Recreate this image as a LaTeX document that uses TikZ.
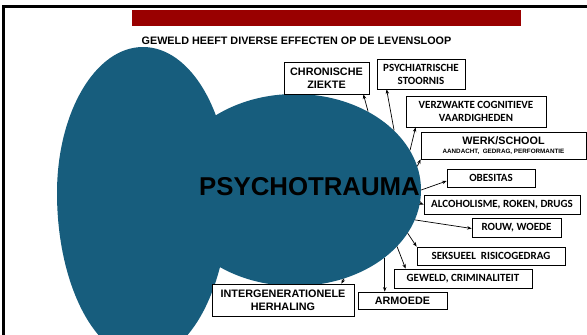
\documentclass[tikz,border=0pt]{standalone}
\usepackage{fontspec}
\setmainfont{Liberation Sans}
\newfontfamily\calfont{Carlito}
\usetikzlibrary{shapes.geometric,arrows.meta}
\definecolor{blob}{RGB}{23,93,125}
\definecolor{barred}{RGB}{153,0,0}
\begin{document}
\begin{tikzpicture}[x=1pt,y=-1pt,
  box/.style={draw=black, line width=0.8pt, fill=white, inner sep=0pt, align=center,
    font=\bfseries\fontsize{10.8}{13}\selectfont},
  cbox/.style={box, font=\calfont\bfseries\fontsize{11}{13}\selectfont},
  arr/.style={-{Stealth[length=4.5pt,width=3.5pt]}, line width=0.7pt}]
\useasboundingbox (0,0) rectangle (587,335);
\clip (0,0) rectangle (587,335);
% frame
\draw[line width=3pt] (3.5,335) -- (3.5,6.5) -- (587,6.5);
\fill[barred] (132,9.5) rectangle (521,25.5);
\node[font=\bfseries\fontsize{10.8}{13}\selectfont] (title) at (296.5,41) {GEWELD HEEFT DIVERSE EFFECTEN OP DE LEVENSLOOP};
% blob: egg-shaped left part and the ellipse behind the title word
\fill[blob] (57,193) arc[start angle=180, end angle=360, x radius=86, y radius=146]
  arc[start angle=0, end angle=180, x radius=86, y radius=166] -- cycle;
\node[ellipse, fill=blob, inner sep=0pt, minimum width=252pt, minimum height=192pt] (e2) at (295,190) {};
\node[font=\bfseries\fontsize{25.8}{30}\selectfont] (pt) at (309.5,186.5) {PSYCHOTRAUMA};
% boxes
\node[box, minimum width=85pt, minimum height=32pt] (chron) at (326.5,78) {CHRONISCHE\\ZIEKTE};
\node[cbox, minimum width=88pt, minimum height=30pt] (psych) at (421,74) {PSYCHIATRISCHE\\STOORNIS};
\node[cbox, minimum width=140pt, minimum height=31pt] (verz) at (476,111.5) {VERZWAKTE COGNITIEVE\\VAARDIGHEDEN};
\node[box, minimum width=165pt, minimum height=27pt, font=\bfseries\fontsize{10.8}{9.5}\selectfont] (werk) at (503.5,145.5) {WERK/SCHOOL\\{\fontsize{6.3}{9.5}\selectfont AANDACHT,\ \ GEDRAG, PERFORMANTIE}};
\node[cbox, minimum width=88pt, minimum height=18pt] (obes) at (491,178) {OBESITAS};
\node[cbox, minimum width=156pt, minimum height=19pt] (alco) at (502,204.5) {ALCOHOLISME, ROKEN, DRUGS};
\node[cbox, minimum width=89pt, minimum height=19pt] (rouw) at (516.5,227.5) {ROUW, WOEDE};
\node[cbox, minimum width=148pt, minimum height=18pt] (seks) at (491,256) {SEKSUEEL\ \ RISICOGEDRAG};
\node[cbox, minimum width=138pt, minimum height=19pt] (gew) at (463,278.5) {GEWELD, CRIMINALITEIT};
\node[box, minimum width=89pt, minimum height=17pt] (arm) at (402.5,300.5) {ARMOEDE};
\node[box, minimum width=142pt, minimum height=32pt] (inter) at (283,300) {INTERGENERATIONELE\\HERHALING};
% arrows
\draw[arr] (e2.47) -- ([xshift=-6pt]chron.south east);
\draw[arr] (e2.31) -- ([xshift=10pt]psych.south west);
\draw[arr] (e2.19) -- ([xshift=10pt]verz.south west);
\draw[arr] (e2.11) -- (werk.south west);
\draw[arr] (e2.0) -- ([yshift=-3pt]obes.west);
\draw[arr] (e2.-6) -- (alco.west);
\draw[arr] (e2.-14) -- ([yshift=-1pt]rouw.west);
\draw[arr] (e2.-21) -- (seks.north west);
\draw[arr] (e2.-29) -- ([xshift=12pt]gew.north west);
\draw[arr] (e2.-37) -- (e2.-37 |- arm.north);
\draw[arr] (e2.-61) -- ([xshift=-13pt]inter.north east);
\end{tikzpicture}
\end{document}
